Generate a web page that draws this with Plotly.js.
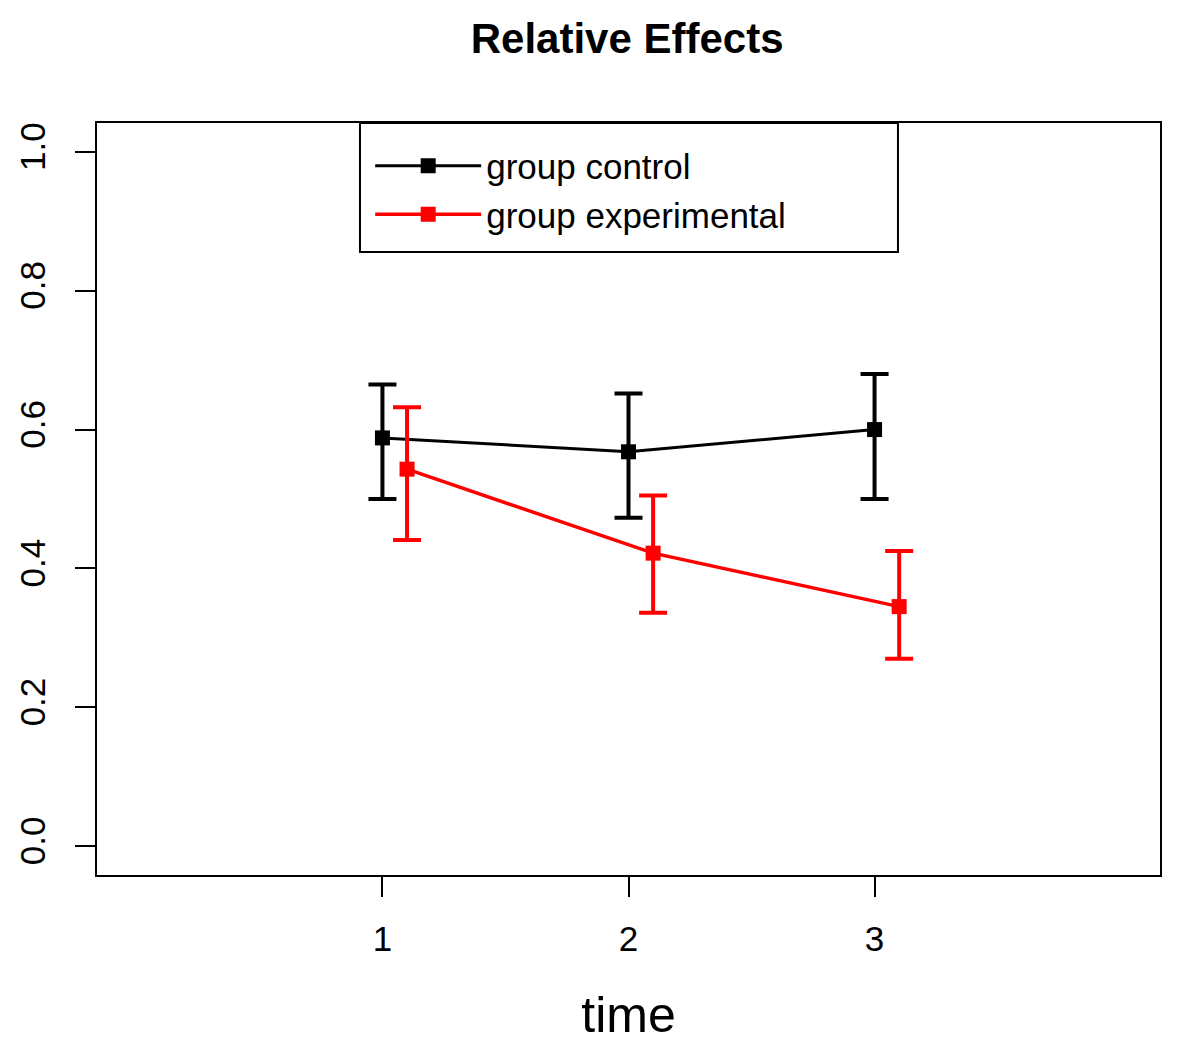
<!DOCTYPE html>
<html>
<head>
<meta charset="utf-8">
<script src="https://cdn.plot.ly/plotly-3.0.1.min.js"></script>
<style>
  body { margin: 0; background: #fff; }
</style>
</head>
<body>
<div id="chart"></div>
<script>
// time points and dodge offset for the second group
const timePoints = [1, 2, 3];
const dodge = 0.1;

// group control
const ctrlEffect = [0.588, 0.568, 0.600];
const ctrlUpper = [0.665, 0.652, 0.680];
const ctrlLower = [0.500, 0.473, 0.500];

// group experimental
const expEffect = [0.543, 0.422, 0.345];
const expUpper = [0.632, 0.505, 0.425];
const expLower = [0.441, 0.336, 0.270];

function diff(a, b) {
  return a.map((v, i) => +(v - b[i]).toFixed(4));
}

const fontFam = '"Liberation Sans", Arial, sans-serif';

const ctrl = {
  name: 'group control',
  x: timePoints,
  y: ctrlEffect,
  type: 'scatter',
  mode: 'lines+markers',
  line: { color: '#000000', width: 3 },
  marker: { symbol: 'square', size: 15, color: '#000000' },
  error_y: {
    type: 'data', symmetric: false,
    array: diff(ctrlUpper, ctrlEffect),
    arrayminus: diff(ctrlEffect, ctrlLower),
    color: '#000000', thickness: 4, width: 14
  }
};

const exper = {
  name: 'group experimental',
  x: timePoints.map(t => t + dodge),
  y: expEffect,
  type: 'scatter',
  mode: 'lines+markers',
  line: { color: '#ff0000', width: 3.5 },
  marker: { symbol: 'square', size: 15, color: '#ff0000' },
  error_y: {
    type: 'data', symmetric: false,
    array: diff(expUpper, expEffect),
    arrayminus: diff(expEffect, expLower),
    color: '#ff0000', thickness: 4, width: 14
  }
};

const layout = {
  width: 1181,
  height: 1055,
  margin: { l: 97, r: 21, t: 123, b: 180 },
  paper_bgcolor: '#ffffff',
  plot_bgcolor: '#ffffff',
  font: { family: fontFam, color: '#000000', size: 34 },
  title: {
    text: '<b>Relative Effects</b>',
    font: { family: fontFam, size: 42, color: '#000000' },
    x: 0.531, xanchor: 'center',
    y: 0.964, yanchor: 'middle'
  },
  xaxis: {
    range: [-0.16, 4.16],
    tickmode: 'array',
    tickvals: timePoints,
    ticktext: timePoints.map(String),
    ticks: 'outside', ticklen: 20, tickwidth: 2, tickcolor: '#000000',
    ticklabelstandoff: 12,
    showgrid: false, zeroline: false,
    showline: true, mirror: true, linecolor: '#000000', linewidth: 2,
    tickfont: { size: 35 },
    title: { text: 'time', font: { size: 50 }, standoff: 40 }
  },
  yaxis: {
    range: [-0.0416, 1.0416],
    tickmode: 'array',
    tickvals: [0, 0.2, 0.4, 0.6, 0.8, 1.0],
    ticktext: ['0.0', '0.2', '0.4', '0.6', '0.8', '1.0'],
    tickangle: -90,
    ticks: 'outside', ticklen: 20, tickwidth: 2, tickcolor: '#000000',
    ticklabelstandoff: 16,
    showgrid: false, zeroline: false,
    showline: true, mirror: true, linecolor: '#000000', linewidth: 2,
    tickfont: { size: 35 }
  },
  showlegend: true,
  legend: {
    x: 0.257, xanchor: 'left',
    y: 0.982, yanchor: 'top',
    bgcolor: 'rgba(0,0,0,0)',
    borderwidth: 0,
    font: { size: 35 },
    itemwidth: 106,
    tracegroupgap: 0
  },
  shapes: [{
    type: 'rect', xref: 'paper', yref: 'paper',
    x0: 0.2474, x1: 0.7535, y0: 0.8285, y1: 1,
    line: { color: '#000000', width: 2 },
    fillcolor: 'rgba(0,0,0,0)'
  }]
};

Plotly.newPlot('chart', [ctrl, exper], layout, { displayModeBar: false, staticPlot: true });
</script>
</body>
</html>
